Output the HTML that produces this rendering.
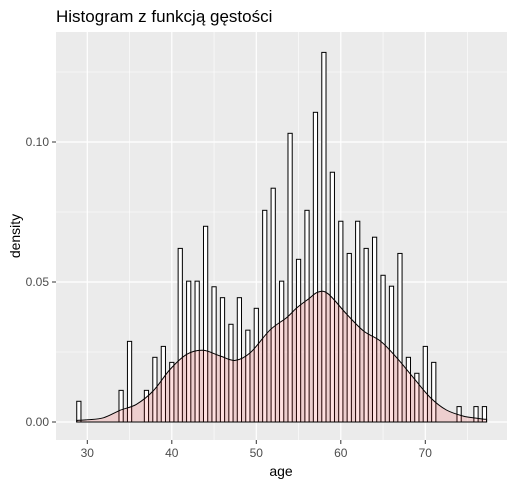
<!DOCTYPE html>
<html><head><meta charset="utf-8"><style>
body{margin:0;background:#fff;}
svg text{font-family:"Liberation Sans","DejaVu Sans",sans-serif;}
</style></head><body>
<svg id="chart" width="515" height="485" xmlns="http://www.w3.org/2000/svg">
<text x="56" y="22" font-size="17" fill="#000">Histogram z funkcją gęstości</text>
<rect x="56" y="32" width="451" height="408" fill="#EBEBEB"/>
<g id="grid"></g><g id="bars"></g><g id="dens"></g><g id="axes"></g>
<text x="281" y="476" font-size="14" text-anchor="middle" fill="#000">age</text>
<text transform="translate(20,236) rotate(-90)" font-size="14" text-anchor="middle" fill="#000">density</text>
</svg>
<script>
const ages=[29,34,35,37,38,39,40,41,42,43,44,45,46,47,48,49,50,51,52,53,54,55,56,57,58,59,60,61,62,63,64,65,66,67,68,69,70,71,74,76,77];
const densities=[.0074,.0113,.0288,.0113,.0231,.0270,.0213,.0620,.0503,.0503,.0699,.0483,.0444,.0349,.0444,.0328,.0406,.0756,.0835,.0503,.1031,.0581,.0756,.1106,.1320,.0892,.0717,.0602,.0717,.0620,.0660,.0524,.0485,.0602,.0231,.0174,.0270,.0213,.0055,.0055,.0055];
const curveX=[28.75,29,30,31.9,33.9,35.8,37.8,39.8,41.8,43.7,45.7,47.5,49.3,51.6,53.6,54.8,56.2,57.3,58.5,60.7,62.7,64.7,66.6,68.6,70.6,72.5,74.5,76,77,77.25];
const curveY=[.0006,.0006,.0008,.0015,.0042,.0063,.0111,.0188,.0242,.0256,.0236,.0220,.0248,.0328,.0373,.0408,.0440,.0464,.0458,.0385,.0325,.0289,.0230,.0158,.0087,.0043,.0021,.0014,.0010,.0010];
const xTicks=[30,40,50,60,70];
const yTicks=[0,0.05,0.10];
const yTickLabels=["0.00","0.05","0.10"];
const NS="http://www.w3.org/2000/svg";
const X=a=>87.3+(a-30)*8.45;
const Y=d=>422-d*2800;
function mk(tag,attrs,parent){const e=document.createElementNS(NS,tag);for(const k in attrs)e.setAttribute(k,attrs[k]);parent.appendChild(e);return e;}
const grid=document.getElementById('grid'),bars=document.getElementById('bars'),dens=document.getElementById('dens'),axes=document.getElementById('axes');
xTicks.forEach(t=>{const m=mk('line',{x1:X(t+5),x2:X(t+5),y1:32,y2:440,stroke:'#fff','stroke-width':0.6},grid);

});
[0.025,0.075,0.125].forEach(t=>{const m=mk('line',{x1:56,x2:507,y1:Y(t),y2:Y(t),stroke:'#fff','stroke-width':0.6},grid);

});
xTicks.forEach(t=>{const g=mk('line',{x1:X(t),x2:X(t),y1:32,y2:440,stroke:'#fff','stroke-width':1.2},grid);


const tk=mk('line',{x1:X(t),x2:X(t),y1:440,y2:444,stroke:'#333','stroke-width':1},axes);


const tx=mk('text',{x:X(t),y:457,'font-size':12,'text-anchor':'middle',fill:'#4D4D4D'},axes);tx.textContent=t;

});
yTicks.forEach((t,i)=>{const g=mk('line',{x1:56,x2:507,y1:Y(t),y2:Y(t),stroke:'#fff','stroke-width':1.2},grid);


const tk=mk('line',{x1:52,x2:56,y1:Y(t),y2:Y(t),stroke:'#333','stroke-width':1},axes);


const tx=mk('text',{x:49,y:Y(t)+4,'font-size':12,'text-anchor':'end',fill:'#4D4D4D'},axes);tx.textContent=yTickLabels[i];

});
const base=mk('line',{x1:X(28.75),x2:X(77.25),y1:Y(0),y2:Y(0),stroke:'#000','stroke-width':1},bars);


ages.forEach((a,i)=>{const r=mk('rect',{x:X(a-0.25),y:Y(densities[i]),width:X(a+0.25)-X(a-0.25),height:Y(0)-Y(densities[i]),fill:'#fff',stroke:'#000','stroke-width':1},bars);

});
const P=curveX.map((x,i)=>[X(x),Y(curveY[i])]);
let d='M'+P[0][0].toFixed(1)+','+Y(0)+' L'+P[0][0].toFixed(1)+','+P[0][1].toFixed(1);
for(let i=0;i<P.length-1;i++){
  const p0=P[Math.max(0,i-1)],p1=P[i],p2=P[i+1],p3=P[Math.min(P.length-1,i+2)];
  const c1=[p1[0]+(p2[0]-p0[0])/6,p1[1]+(p2[1]-p0[1])/6];
  const c2=[p2[0]-(p3[0]-p1[0])/6,p2[1]-(p3[1]-p1[1])/6];
  d+=' C'+c1[0].toFixed(1)+','+c1[1].toFixed(1)+' '+c2[0].toFixed(1)+','+c2[1].toFixed(1)+' '+p2[0].toFixed(1)+','+p2[1].toFixed(1);
}
d+=' L'+P[P.length-1][0].toFixed(1)+','+Y(0)+' Z';
const area=mk('path',{d:d,fill:'rgba(255,0,0,0.12)',stroke:'#000','stroke-width':1},dens);


</script>
</body></html>
